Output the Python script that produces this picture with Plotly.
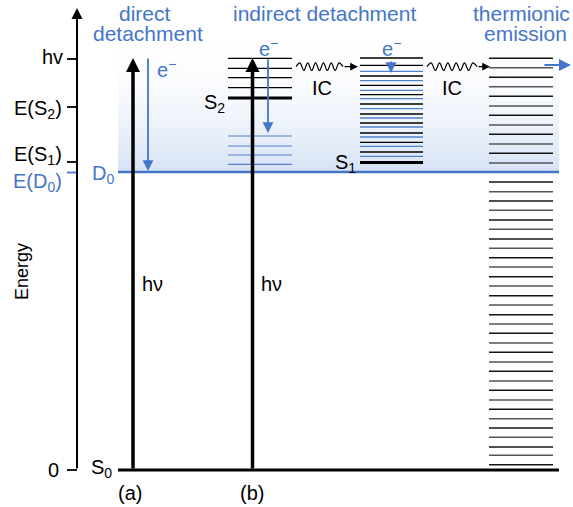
import plotly.graph_objects as go

# ---------------- data (energy in arbitrary units, S0 = 0) ----------------
E_HV = 412          # photon energy
E_D0 = 298          # neutral ground state D0 (detachment threshold)
S2_LEVEL = 372      # S2 state of the anion
S1_LEVEL = 307.5    # S1 state of the anion
E_TOP = 462         # top of energy axis

tick_values = [411, 363, 308, 297.5, 0]
tick_labels = ["hv", "E(S<sub>2</sub>)", "E(S<sub>1</sub>)", "E(D<sub>0</sub>)", "0"]
tick_colors = ["black", "black", "black", "blue", "black"]

# column (b): vibrational levels above S2 and D0 continuum levels
b_black_levels = [411.7, 401.7, 392.3, 382.3]
b_blue_levels = [334, 324, 315, 305.7]
# column (c): dense manifold above S1
c_black_levels = [412, 404.7, 394, 384.7, 375.3, 366, 356, 347, 337, 327.7, 318]
c_blue_levels = [398.7, 389.3, 379.7, 371.3, 361.3, 352, 343, 333, 323.7, 313.7]
# column (d): hot ground-state levels (thermionic emission)
d_levels = [411.7, 402.3, 392.7, 383.3, 373.7, 364, 354.7, 345, 335.7, 326, 316.7, 307,
            288, 278.3, 269, 259.7, 250, 240.7, 231, 221.7, 212.3, 203, 193.3, 184,
            174.3, 165, 155.3, 146, 136.7, 127, 117.7, 108, 98.7, 89, 79.7, 70, 60.7,
            51.3, 42, 32.7, 23, 14.7, 5.3]

# wavy IC arrows: relative vertical offsets of the zig-zag
wave_offsets = [0, 3.8, -3.8, 3.8, -3.8, 3.8, -3.8, 3.8, -3.8, 3.8, -3.8, 3.8, 0]

# ---------------- styling ----------------
BLUE = "rgb(68,118,200)"
BLUE_LEVEL = "rgb(80,128,210)"
FONT = "Liberation Sans, Arial, sans-serif"
W, H = 573, 507

# horizontal extents (layout)
X_AXIS = 77
X_LEFT, X_RIGHT = 118, 559
XA, XB = 133, 252.5
B_X0, B_X1 = 228, 292
C_X0, C_X1 = 360, 423
D_X0, D_X1 = 489, 553

fig = go.Figure()


def seg_trace(x0, x1, levels, color, width):
    xs, ys = [], []
    for e in levels:
        xs += [x0, x1, None]
        ys += [e, e, None]
    fig.add_trace(go.Scatter(x=xs, y=ys, mode="lines", line=dict(color=color, width=width),
                             hoverinfo="skip", showlegend=False))


# gradient background above D0
fig.add_trace(go.Scatter(
    x=[X_LEFT, X_RIGHT, X_RIGHT, X_LEFT, X_LEFT],
    y=[E_D0, E_D0, 440, 440, E_D0],
    mode="lines", fill="toself", line=dict(width=0),
    fillgradient=dict(type="vertical",
                      colorscale=[[0, "rgba(214,226,245,1)"], [1, "rgba(255,255,255,0)"]],
                      start=E_D0, stop=440),
    hoverinfo="skip", showlegend=False))

# levels
seg_trace(B_X0, B_X1, b_blue_levels, BLUE_LEVEL, 1.2)
seg_trace(B_X0, B_X1, b_black_levels, "black", 1.2)
seg_trace(B_X0, B_X1, [S2_LEVEL], "black", 3)
seg_trace(C_X0, C_X1, c_blue_levels, BLUE_LEVEL, 1.3)
seg_trace(C_X0, C_X1, c_black_levels, "black", 1.3)
seg_trace(C_X0, C_X1, [S1_LEVEL], "black", 3.2)
seg_trace(D_X0, D_X1, d_levels[0::2], "rgb(20,20,20)", 1.4)
seg_trace(D_X0, D_X1, d_levels[1::2], "rgb(85,85,85)", 1.4)

# D0 and S0 lines
seg_trace(X_LEFT, X_RIGHT, [E_D0], BLUE, 2.4)
seg_trace(X_LEFT, X_RIGHT, [0], "black", 2.8)

# axis ticks
for v, c in zip(tick_values, tick_colors):
    seg_trace(67, X_AXIS, [v], BLUE if c == "blue" else "black", 1.8)

# wavy IC lines
for x0, x1 in [(296, 343), (427, 477)]:
    n = len(wave_offsets)
    xs = [x0 + (x1 - x0) * i / (n - 1) for i in range(n)]
    ys = [403.3 + o for o in wave_offsets]
    fig.add_trace(go.Scatter(x=xs, y=ys, mode="lines",
                             line=dict(color="black", width=1.2, shape="spline"),
                             hoverinfo="skip", showlegend=False))

ann = []


def arrow(x, y, ax, ay, color="black", width=3.5, size=0.9, head=2):
    ann.append(dict(x=x, y=y, ax=ax, ay=ay, xref="x", yref="y", axref="x", ayref="y",
                    text="", showarrow=True, arrowhead=head, arrowsize=size,
                    arrowwidth=width, arrowcolor=color, standoff=0, startstandoff=0))


def label(x, y, text, color="black", size=20, xanchor="center", yanchor="middle", angle=0):
    ann.append(dict(x=x, y=y, xref="x", yref="y", text=text, showarrow=False,
                    font=dict(family=FONT, size=size, color=color),
                    xanchor=xanchor, yanchor=yanchor, textangle=angle))


# energy axis
arrow(X_AXIS, E_TOP, X_AXIS, 0, width=2, size=1.1)
# photon absorption arrows
arrow(XA, E_HV, XA, 0, width=3.5, size=0.8)
arrow(XB, E_HV, XB, 0, width=3.5, size=0.8)
# electron arrows
arrow(148, E_D0 + 1, 148, E_HV + 1, color=BLUE, width=1.8, size=1.2)
arrow(268, 337, 268, E_HV, color=BLUE, width=1.8, size=1.2)
arrow(391, 397, 391, 410, color=BLUE, width=1.8, size=1.2)
arrow(571, 405, 543, 405, color=BLUE, width=2, size=1.2)
# IC arrow heads
arrow(358, 403.3, 343, 403.3, width=1.2, size=1.3)
arrow(490, 403.3, 477, 403.3, width=1.2, size=1.3)

# tick labels
label(65, 413, "hv", xanchor="right")
label(64, 361, "E(S<sub>2</sub>)", xanchor="right")
label(64, 315, "E(S<sub>1</sub>)", xanchor="right")
label(64, 288, "E(D<sub>0</sub>)", color=BLUE, xanchor="right")
label(61, 0, "0", xanchor="right")
label(22, 198, "Energy", size=18, angle=-90)

# titles
label(145, 457, "direct", color=BLUE, size=21)
label(148, 437, "detachment", color=BLUE, size=21)
label(324, 457, "indirect detachment", color=BLUE, size=21)
label(521, 457, "thermionic", color=BLUE, size=21)
label(525, 437, "emission", color=BLUE, size=21)

# state labels
label(90, 296, "D<sub>0</sub>", color=BLUE, xanchor="left")
label(89, 2, "S<sub>0</sub>", xanchor="left")
label(227, 367, "S<sub>2</sub>", xanchor="right")
label(358, 307, "S<sub>1</sub>", xanchor="right")
label(130, -23, "(a)")
label(252, -23, "(b)")
label(140, 186, "hν", xanchor="left")
label(259, 186, "hν", xanchor="left")
label(155, 402, "e<sup>−</sup>", color=BLUE, xanchor="left")
label(268, 423, "e<sup>−</sup>", color=BLUE)
label(391, 423, "e<sup>−</sup>", color=BLUE)
label(322, 382, "IC")
label(452, 382, "IC")

fig.update_layout(
    width=W, height=H, margin=dict(l=0, r=0, t=0, b=0),
    paper_bgcolor="white", plot_bgcolor="white",
    xaxis=dict(range=[0, W], visible=False, fixedrange=True),
    yaxis=dict(range=[470 - H, 470], visible=False, fixedrange=True),
    annotations=ann, showlegend=False,
)

fig.write_html("out.html",
               config={"displayModeBar": False, "staticPlot": True},
               post_script="document.body.style.margin='0px';document.body.style.overflow='hidden';")
